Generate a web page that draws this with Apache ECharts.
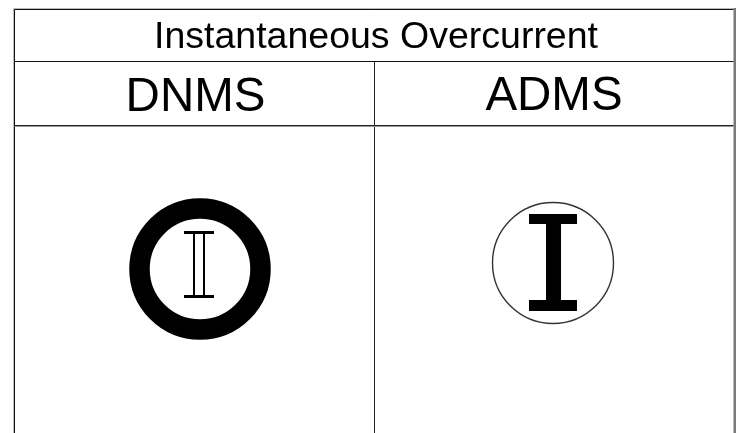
<!DOCTYPE html>
<html><head><meta charset="utf-8">
<style>html,body{margin:0;padding:0;background:#fff}#c{width:737px;height:433px}</style>
<script src="https://cdn.jsdelivr.net/npm/echarts@6/dist/echarts.min.js"></script>
</head><body><div id="c"></div>
<script>
const tableTitle = 'Instantaneous Overcurrent';
const columns = ['DNMS', 'ADMS'];
const c = echarts.init(document.getElementById('c'), null, {renderer:'canvas'});
const FONT = '"Liberation Sans", Arial, sans-serif';
const ink = '#000';
const L = 14.5, R = 733.5, Top = 9.5, R1 = 61.5, R2 = 125.5, Mid = 374.5, B = 433;
function line(x1,y1,x2,y2,w=1,col='#111'){return {type:'line',shape:{x1,y1,x2,y2},style:{stroke:col,lineWidth:w}}}
function rect(x,y,width,height,fill=ink){return {type:'rect',shape:{x,y,width,height},style:{fill}}}
function text(t,x,y,size){return {type:'text',x,y,style:{text:t,fill:ink,font:size+'px '+FONT,textAlign:'center',textVerticalAlign:'middle'}}}
const els = [
  line(L-1,Top-1,R+2,Top-1,1,'#bbb'),
  line(L-1,Top-1,L-1,B,1,'#bbb'),
  line(L,Top,R,Top),
  line(L,Top,L,B),
  line(Mid,R1,Mid,B,1,'#222'),
  rect(733.5,8,2.5,B-8,'#7a7a7a'),
  line(L,R1,R,R1),
  line(L,R2,R,R2,1,'#222'),
  line(L,R2+1,R,R2+1,1,'#999'),
  text(tableTitle,376,38,37.5),
  text(columns[0],195.5,98,47.5),
  text(columns[1],554,97,47.5),
  {type:'circle',shape:{cx:200,cy:269,r:60.5},style:{fill:'none',stroke:ink,lineWidth:20.5}},
  rect(184,231,30,3), rect(184,295,30,3),
  rect(193,234,2,61), rect(203,234,2,61),
  {type:'circle',shape:{cx:553,cy:263,r:60.5},style:{fill:'none',stroke:'#333',lineWidth:1.4}},
  rect(529,214,48,10), rect(529,300,48,11), rect(546,224,15,76)
];
c.setOption({animation:false,backgroundColor:'#fff',graphic:{elements:els}});
</script></body></html>
